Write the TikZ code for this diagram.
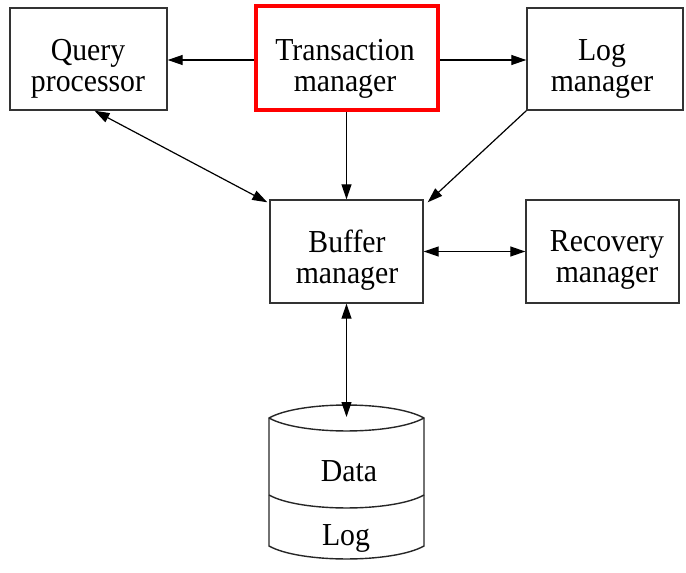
\documentclass[tikz,border=0pt]{standalone}
\usepackage{fontspec}
\setmainfont{Liberation Serif}[FakeStretch=0.93]
\usetikzlibrary{arrows.meta}
\begin{document}
\begin{tikzpicture}[x=1pt,y=-1pt,
  box/.style={draw=black!80,line width=1.4pt,minimum width=153pt,minimum height=102pt,inner sep=0pt},
  redbox/.style={box,draw=red,line width=4.5pt,minimum width=182pt,minimum height=104pt},
  arr/.style={line width=1.2pt,-{Triangle[length=15pt,width=10pt]}},
  darr/.style={line width=1.2pt,{Triangle[length=15pt,width=10pt]}-{Triangle[length=15pt,width=10pt]}},
  dbline/.style={draw=black!85,line width=1.4pt},
  txt/.style={font=\fontsize{32}{31.5}\selectfont,inner sep=0pt,align=center},
  dbtxt/.style={font=\fontsize{32}{31.5}\selectfont,inner sep=0pt,anchor=base}]
\useasboundingbox (0,0) rectangle (686,573);
\node[box,minimum width=157pt] (query) at (88.5,59) {};
\node[redbox] (trans) at (347,58) {};
\node[box,minimum width=156pt] (log) at (605,59) {};
\node[box,minimum height=103pt] (buffer) at (346.5,251.5) {};
\node[box,minimum height=103pt] (recovery) at (602.5,251.5) {};
% box texts
\node[txt] (querytxt) at (88,69) {Query\\processor};
\node[txt] (transtxt) at (345,69) {Transaction\\manager};
\node[txt] (logtxt) at (602,69) {Log\\manager};
\node[txt] (buffertxt) at (347,260) {Buffer\\manager};
\node[txt] (recoverytxt) at (607,260) {Recovery\\manager};
% database cylinder
\coordinate (dbtop) at (346.5,417);
\draw[dbline] (269,418) .. controls (300,400.7) and (393,400.7) .. (424,418)
  -- (424,546) .. controls (393,563.3) and (300,563.3) .. (269,546) -- cycle;
\draw[dbline] (269,418) .. controls (300,435.3) and (393,435.3) .. (424,418);
\draw[dbline] (269,495) .. controls (300,512.3) and (393,512.3) .. (424,495);
\node[dbtxt] (data) at (349,481) {Data};
\node[dbtxt] (dblog) at (346,545) {Log};
% connectors
\draw[arr] (trans.west |- 0,60) -- (query.east |- 0,60);
\draw[arr] (trans.east |- 0,60) -- (log.west |- 0,60);
\draw[darr] ([xshift=6pt]query.south) -- ([shift={(-2pt,-3pt)}]buffer.north west);
\draw[arr] (trans.south -| buffer.north) -- (buffer.north);
\draw[arr] (log.south west) -- ([shift={(4pt,-3pt)}]buffer.north east);
\draw[darr] (buffer.east) -- (recovery.west);
\draw[darr] (buffer.south) -- (dbtop);
\end{tikzpicture}
\end{document}
